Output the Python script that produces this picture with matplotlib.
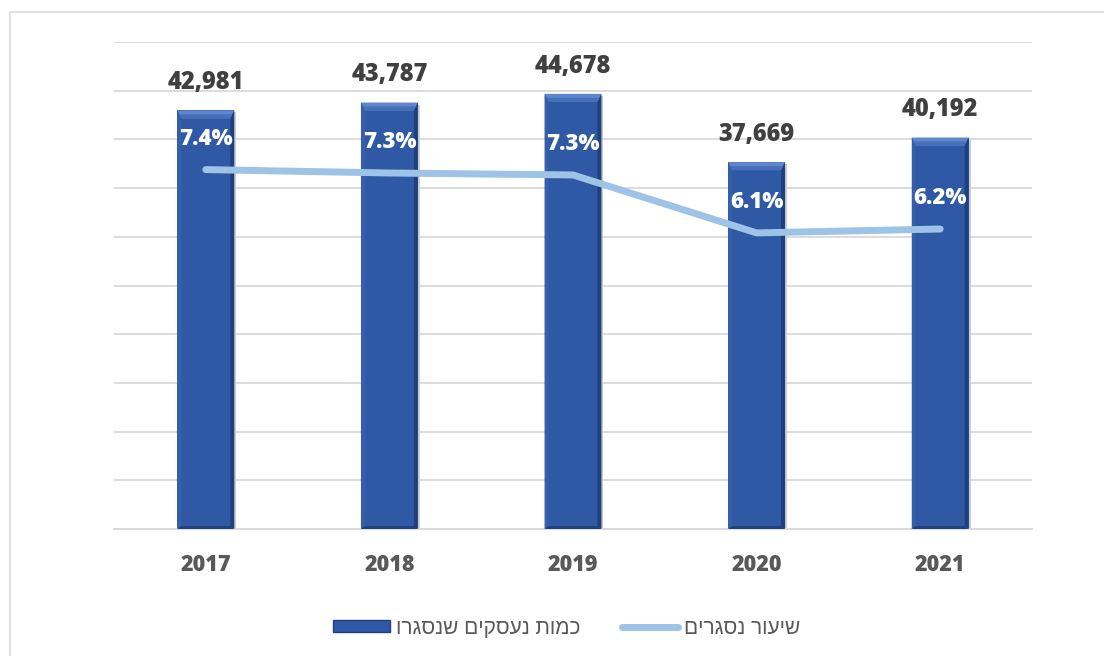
import matplotlib
matplotlib.use("Agg")
import matplotlib.pyplot as plt
from matplotlib.patches import Polygon, Rectangle, Patch
from matplotlib.lines import Line2D

# data
years = ["2017", "2018", "2019", "2020", "2021"]
closed_count = [42981, 43787, 44678, 37669, 40192]
closed_rate = [7.38, 7.31, 7.27, 6.08, 6.16]   # percent

label_count = "כמות נעסקים שנסגרו"
label_rate = "שיעור נסגרים"

BAR_FACE = "#2F59A4"
BAR_TOP = "#5F85CC"
BAR_TOP_INNER = "#4670B9"
BAR_LEFT = "#355FAB"
BAR_RIGHT = "#203F7D"
BAR_BOTTOM = "#22427F"
LINE_COLOR = "#9DC3E6"
GRID = "#D9D9D9"
TEXT_DARK = "#404040"
TEXT_GRAY = "#595959"
NUM_FONT = "Open Sans"
NUM_WEIGHT = 800


def visual(s):
    # matplotlib has no bidi support, so flip hebrew into visual order
    return s[::-1]


fig = plt.figure(figsize=(11.04, 6.56), dpi=100)
fig.patch.set_facecolor("white")

# outer chart border (cropped on the right and bottom like the source)
fig.add_artist(Rectangle((10 / 1104, -0.1), 1.2, (656 - 12) / 656 + 0.1,
                         transform=fig.transFigure, fill=False,
                         edgecolor="#D9D9D9", linewidth=1.2))

ax = fig.add_axes([114 / 1104, (656 - 529) / 656, (1032 - 114) / 1104, (529 - 42) / 656])
x = list(range(len(years)))
ax.set_xlim(-0.5, len(years) - 0.5)
ax.set_ylim(0, 50000)
ax.set_yticks(range(0, 50001, 5000))
ax.yaxis.grid(True, color=GRID, linewidth=1.3)
ax.set_axisbelow(True)
ax.set_xticks(x)
ax.set_xticklabels(years, fontsize=15.5, fontweight=NUM_WEIGHT, color=TEXT_GRAY,
                   family=NUM_FONT)
for sp in ["top", "right", "left"]:
    ax.spines[sp].set_visible(False)
ax.spines["bottom"].set_color(GRID)
ax.spines["bottom"].set_linewidth(1.3)

bars = ax.bar(x, closed_count, width=0.31, color=BAR_FACE, zorder=2)

# bevel edges on each bar, sized in pixels
inv = ax.transData.inverted()
for b in bars:
    x0, y0 = ax.transData.transform((b.get_x(), 0))
    x1, y1 = ax.transData.transform((b.get_x() + b.get_width(), b.get_height()))
    dt, ds = 8, 4

    def poly(pts, color, z=3):
        ax.add_patch(Polygon(inv.transform(pts), closed=True, facecolor=color,
                             edgecolor="none", zorder=z))

    # soft shadow
    poly([(x0 + 2, y0 - 2), (x1 + 2, y0 - 2), (x1 + 2, y1 - 2), (x1, y1 - 2), (x1, y0), (x0 + 2, y0)],
         "#C8CCD4", z=1.5)
    poly([(x0, y1), (x1, y1), (x1 - ds, y1 - dt), (x0 + ds, y1 - dt)], BAR_TOP)
    poly([(x0 + 2, y1 - dt / 2), (x1 - 2, y1 - dt / 2), (x1 - ds, y1 - dt), (x0 + ds, y1 - dt)],
         BAR_TOP_INNER, z=3.1)
    poly([(x0, y0), (x0 + ds, y0 + 3), (x0 + ds, y1 - dt), (x0, y1)], BAR_LEFT)
    poly([(x1, y0), (x1 - ds, y0 + 3), (x1 - ds, y1 - dt), (x1, y1)], BAR_RIGHT)
    poly([(x0, y0), (x1, y0), (x1 - ds, y0 + 3), (x0 + ds, y0 + 3)], BAR_BOTTOM)

for xi, v in zip(x, closed_count):
    ax.annotate(f"{v:,}", (xi, v), xytext=(0, 20), textcoords="offset points",
                ha="center", va="center", fontsize=17, fontweight=NUM_WEIGHT,
                color=TEXT_DARK, family=NUM_FONT, zorder=5)

ax2 = ax.twinx()
ax2.set_ylim(0, 10)
ax2.axis("off")
ax2.plot(x, closed_rate, color=LINE_COLOR, linewidth=5, solid_capstyle="round",
         solid_joinstyle="round", zorder=4)
for xi, v in zip(x, closed_rate):
    ax2.annotate(f"{v:.1f}%", (xi, v), xytext=(0, 22), textcoords="offset points",
                 ha="center", va="center", fontsize=16, fontweight=NUM_WEIGHT,
                 color="white", family=NUM_FONT, zorder=6)

# twinx turns the left ticks back on, so hide them afterwards
ax.tick_params(axis="y", left=False, right=False, labelleft=False)
ax.tick_params(axis="x", bottom=False, pad=14)

handles = [Patch(facecolor=BAR_FACE, edgecolor=BAR_RIGHT, linewidth=1),
           Line2D([0], [0], color=LINE_COLOR, linewidth=5, solid_capstyle="round")]
fig.legend(handles, [visual(label_count), visual(label_rate)], loc="center",
           bbox_to_anchor=(567 / 1104, 28 / 656), ncol=2, frameon=False,
           handlelength=2.7, handleheight=0.55, handletextpad=0.3, columnspacing=2.0,
           prop={"family": "Liberation Sans", "size": 15}, labelcolor=TEXT_GRAY)

fig.savefig("out.png", dpi=100, facecolor="white")
